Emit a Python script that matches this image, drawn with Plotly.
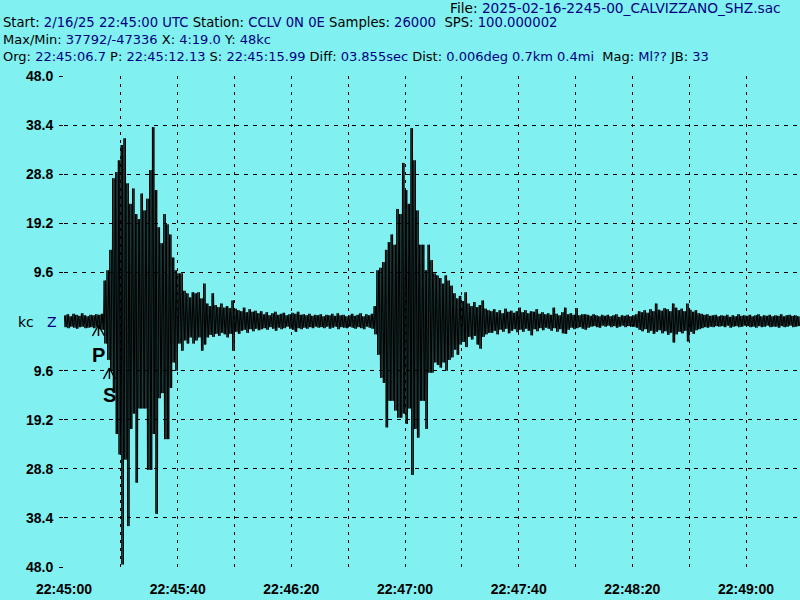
import numpy as np
import plotly.graph_objects as go

# ---------------- data ----------------
# envelope of the trace per 1-second bin, in kilo-counts (kc), t = 0..258 s after 22:45:00
upper = [
    1.2, 1.4, 1.0, 1.5, 1.3, 1.1, 1.6, 1.2, 1.0, 1.3,
    1.2, 1.4, 1.3, 1.5, 8.0, 10.0, 14.0, 28.0, 29.2, 31.5,
    34.5, 35.8, 27.0, 23.0, 26.0, 21.0, 20.0, 25.0, 21.7, 24.0,
    29.6, 38.0, 25.7, 18.4, 15.3, 21.0, 19.0, 17.0, 12.5, 10.0,
    9.4, 9.4, 6.0, 5.5, 4.7, 5.7, 5.5, 5.7, 4.5, 7.4,
    3.5, 3.0, 5.5, 3.2, 2.8, 3.5, 2.7, 3.0, 2.6, 4.1,
    2.5, 2.2, 2.0, 2.7, 1.8, 2.4, 1.9, 2.1, 1.6, 2.0,
    1.4, 1.8, 1.2, 1.6, 1.9, 1.3, 1.5, 1.7, 1.2, 1.4,
    1.7, 1.5, 1.9, 1.3, 1.4, 1.2, 1.5, 1.1, 1.3, 1.2,
    1.4, 1.0, 1.3, 1.2, 1.5, 1.1, 1.6, 1.2, 1.3, 1.0,
    1.2, 1.5, 1.1, 1.3, 1.6, 1.0, 1.4, 1.2, 1.5, 3.0,
    10.0, 10.5, 11.6, 14.0, 15.5, 17.0, 15.0, 22.0, 21.0, 31.0,
    25.7, 23.0, 37.8, 31.5, 21.7, 15.0, 15.0, 10.0, 15.0, 12.0,
    9.4, 9.0, 8.5, 7.4, 9.0, 8.0, 7.0, 5.5, 4.5, 5.0,
    4.0, 5.7, 3.5, 3.0, 3.8, 2.8, 3.2, 4.1, 2.5, 2.2,
    2.0, 2.4, 1.8, 2.2, 1.6, 2.5, 1.9, 2.1, 1.7, 2.0,
    2.7, 1.8, 2.2, 1.6, 2.0, 1.9, 2.4, 1.5, 1.8, 1.4,
    1.6, 1.3, 2.7, 1.5, 1.2, 1.8, 2.7, 1.4, 1.6, 1.3,
    2.6, 1.2, 1.4, 1.4, 1.3, 1.1, 1.4, 1.2, 1.0, 1.3,
    1.1, 1.3, 1.0, 1.2, 1.4, 0.9, 1.2, 1.1, 1.3, 1.0,
    1.2, 1.4, 2.0, 1.8, 2.2, 1.7, 2.4, 2.0, 3.5, 2.3,
    2.1, 2.6, 2.4, 2.0, 3.5, 2.7, 2.2, 2.5, 2.0, 3.5,
    2.3, 1.9, 2.2, 1.6, 1.5, 1.3, 1.4, 1.1, 1.2, 1.3,
    1.0, 1.2, 1.1, 1.3, 0.9, 1.2, 1.0, 1.4, 1.1, 1.2,
    1.1, 1.3, 1.0, 1.2, 1.4, 1.0, 1.2, 1.1, 1.3, 1.0,
    1.2, 1.1, 1.4, 1.0, 1.2, 1.3, 1.1, 1.2, 1.0,
]
lower = [
    -1.1, -1.3, -1.0, -1.2, -1.4, -1.1, -1.0, -1.3, -1.2, -1.1,
    -1.3, -1.0, -1.5, -1.6, -4.3, -7.5, -9.6, -14.0, -22.0, -26.0,
    -47.5, -27.0, -40.0, -21.0, -18.0, -31.5, -17.0, -17.0, -17.0, -29.0,
    -29.0, -22.0, -37.6, -15.0, -14.0, -23.0, -23.0, -13.0, -8.0, -9.6,
    -4.3, -5.7, -3.7, -4.3, -3.1, -4.3, -3.7, -3.1, -5.7, -4.5,
    -3.1, -2.6, -3.0, -2.4, -2.8, -2.2, -2.5, -3.1, -2.4, -5.7,
    -2.0, -2.4, -1.8, -1.6, -2.2, -1.5, -1.9, -1.4, -1.7, -1.5,
    -1.3, -1.6, -1.1, -1.4, -1.8, -1.2, -1.5, -1.3, -1.0, -1.4,
    -1.6, -2.0, -1.3, -1.5, -1.2, -1.4, -1.1, -1.3, -1.0, -1.2,
    -1.1, -1.3, -1.0, -1.4, -1.2, -1.0, -1.5, -1.1, -1.2, -1.3,
    -1.0, -1.2, -1.4, -1.1, -1.3, -1.5, -1.0, -1.2, -1.4, -2.5,
    -6.5, -11.0, -12.0, -20.7, -15.5, -15.5, -17.4, -18.8, -18.8, -18.0,
    -20.0, -17.0, -30.0, -21.0, -22.7, -15.5, -15.5, -21.0, -10.0, -10.0,
    -8.0, -8.5, -9.0, -8.0, -9.6, -7.5, -7.0, -5.5, -6.5, -4.5,
    -4.0, -5.0, -3.0, -3.5, -2.8, -4.5, -5.3, -3.0, -2.5, -2.2,
    -2.2, -1.8, -2.5, -1.6, -2.0, -1.4, -2.3, -1.8, -1.5, -2.1,
    -1.6, -2.0, -1.4, -1.8, -2.7, -1.5, -1.9, -1.3, -1.7, -1.2,
    -1.4, -1.8, -1.3, -2.0, -1.5, -2.3, -2.4, -1.6, -1.2, -1.5,
    -1.3, -1.1, -1.4, -1.6, -1.2, -1.0, -0.9, -1.1, -1.2, -0.8,
    -1.0, -0.8, -1.1, -0.9, -1.2, -1.0, -0.8, -1.1, -0.9, -1.0,
    -1.0, -1.2, -1.6, -1.9, -1.5, -2.2, -1.8, -2.4, -2.0, -1.7,
    -2.3, -1.9, -2.6, -2.2, -4.1, -2.5, -2.0, -2.3, -1.8, -3.9,
    -2.0, -2.4, -1.7, -1.5, -1.3, -1.1, -1.2, -1.0, -1.1, -0.9,
    -1.0, -0.9, -1.1, -0.8, -1.2, -1.0, -0.9, -1.1, -1.0, -0.8,
    -0.9, -1.1, -1.0, -1.2, -0.9, -1.1, -1.0, -0.8, -1.1, -1.0,
    -1.0, -1.2, -0.9, -1.1, -1.0, -0.8, -1.1, -1.0, -0.9,
]

x_tick_secs = [0, 20, 40, 60, 80, 100, 120, 140, 160, 180, 200, 220, 240]
x_tick_text = ["22:45:00", "", "22:45:40", "", "22:46:20", "", "22:47:00",
               "", "22:47:40", "", "22:48:20", "", "22:49:00"]
y_tick_vals = [-48.0, -38.4, -28.8, -19.2, -9.6, 9.6, 19.2, 28.8, 38.4, 48.0]
y_tick_text = ["48.0", "38.4", "28.8", "19.2", "9.6", "9.6", "19.2", "28.8", "38.4", "48.0"]

p_time = 12.13
s_time = 15.99
x_span = 259.0
y_span = 48.0

header_file = "2025-02-16-2245-00_CALVIZZANO_SHZ.sac"
header_rows = [
    [("Start: ", "2/16/25 22:45:00 UTC "), ("Station: ", "CCLV 0N 0E "),
     ("Samples: ", "26000&nbsp;&nbsp;"), ("SPS: ", "100.000002")],
    [("Max/Min: ", "37792/-47336 "), ("X: ", "4:19.0 "), ("Y: ", "48kc")],
    [("Org: ", "22:45:06.7 "), ("P: ", "22:45:12.13 "), ("S: ", "22:45:15.99 "),
     ("Diff: ", "03.855sec "), ("Dist: ", "0.006deg 0.7km 0.4mi&nbsp;&nbsp;"),
     ("Mag: ", "Ml?? "), ("JB: ", "33")],
]

# ---------------- styling ----------------
BG = "#80F0F0"
NAVY = "#000080"
W, H = 800, 600
ML, MR, MT, MB = 64, 0, 76, 33
PW, PH = W - ML - MR, H - MT - MB


def px(xp):
    return (xp - ML) / PW


def py(yp):
    return (H - MB - yp) / PH


# dense trace: each 1-s bin swings twice between its envelope values
n = len(upper)
t = np.arange(n, dtype=float)
up = np.array(upper)
lo = np.array(lower)
offsets = [0.125, 0.375, 0.625, 0.875]
xs = (t[:, None] + np.array(offsets)[None, :]).ravel()
ys = np.stack([up, lo, up, lo], axis=1).ravel()

fig = go.Figure()
fig.add_trace(go.Scatter(x=xs, y=ys, mode="lines",
                         line=dict(color="black", width=1),
                         hoverinfo="skip", showlegend=False))

fig.update_layout(
    width=W, height=H,
    margin=dict(l=ML, r=MR, t=MT, b=MB, pad=0),
    paper_bgcolor=BG, plot_bgcolor=BG,
    showlegend=False,
    font=dict(family="Liberation Sans", color="black"),
)
fig.update_xaxes(
    range=[0, x_span], tickvals=x_tick_secs, ticktext=x_tick_text,
    showgrid=True, gridcolor="black", gridwidth=1, griddash="3px,5px",
    zeroline=False, showline=False, ticks="", ticklabelstandoff=12,
    tickfont=dict(family="Liberation Sans", size=14, color="black", weight="bold"),
    fixedrange=True,
)
fig.update_yaxes(
    range=[-y_span, y_span], tickvals=y_tick_vals, ticktext=y_tick_text,
    showgrid=True, gridcolor="black", gridwidth=1, griddash="4px,5px",
    zeroline=False, showline=False, ticks="outside", ticklen=4,
    tickcolor="black", ticklabelstandoff=3,
    tickfont=dict(family="Liberation Sans", size=14, color="black", weight="bold"),
    fixedrange=True,
)

annotations = []


def row_text(parts):
    return "".join(f"{lab}<span style='color:{NAVY}'>{val}</span>" for lab, val in parts)


annotations.append(dict(xref="paper", yref="paper", x=px(448), y=py(8),
                        xanchor="left", yanchor="middle", showarrow=False,
                        text=f"File: <span style='color:{NAVY}'>{header_file}</span>",
                        font=dict(family="DejaVu Sans", size=13.7, color="black")))
for row, yc, fs in zip(header_rows, [23, 40, 57], [13.2, 13, 13]):
    annotations.append(dict(xref="paper", yref="paper", x=px(1), y=py(yc),
                            xanchor="left", yanchor="middle", showarrow=False,
                            text=row_text(row),
                            font=dict(family="DejaVu Sans", size=fs, color="black")))

# channel label at the trace baseline
annotations.append(dict(xref="paper", yref="y", x=px(26), y=0, showarrow=False,
                        xanchor="center", yanchor="middle", text="kc",
                        font=dict(family="DejaVu Sans", size=14, color="black")))
annotations.append(dict(xref="paper", yref="y", x=px(52), y=0, showarrow=False,
                        xanchor="center", yanchor="middle", text="Z",
                        font=dict(family="DejaVu Sans", size=14, color=NAVY)))

# phase picks
kc_per_px = 2 * y_span / PH
s_per_px = x_span / PW
shapes = []
for ph_t, apex_px, label_px, lab in [(p_time, 325, 355, "P"), (s_time, 368, 395, "S")]:
    apex = (H - MB - PH / 2 - apex_px) * kc_per_px
    foot = apex - 11 * kc_per_px
    dx = 6 * s_per_px
    for (x0, y0, x1, y1) in [(ph_t - dx, foot, ph_t, apex), (ph_t, apex, ph_t + dx, foot),
                             (ph_t, apex, ph_t, foot)]:
        shapes.append(dict(type="line", xref="x", yref="y", x0=x0, y0=y0, x1=x1, y1=y1,
                           line=dict(color="black", width=1.5), layer="above"))
    annotations.append(dict(xref="x", yref="y", x=ph_t,
                            y=(H - MB - PH / 2 - label_px) * kc_per_px,
                            showarrow=False, xanchor="center", yanchor="middle", text=lab,
                            font=dict(family="Liberation Sans", size=20, color="black",
                                      weight="bold")))

fig.update_layout(annotations=annotations, shapes=shapes)

fig.write_html("out.html", config=dict(displayModeBar=False),
               post_script="document.body.style.margin='0';")
